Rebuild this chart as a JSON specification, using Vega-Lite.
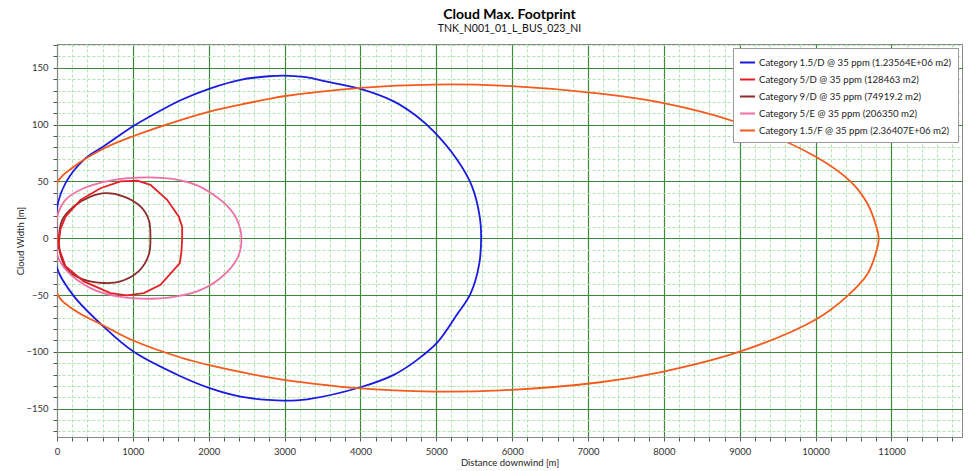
{
  "$schema": "https://vega.github.io/schema/vega-lite/v6.json",
  "autosize": {"type": "none"},
  "padding": {"left": 57, "top": 44, "right": 10, "bottom": 34},
  "width": 905,
  "height": 393,
  "background": "white",
  "title": {
    "text": "Cloud Max. Footprint",
    "subtitle": "TNK_N001_01_L_BUS_023_NI",
    "anchor": "middle",
    "font": "Lato",
    "fontSize": 14,
    "fontWeight": "bold",
    "color": "#000",
    "subtitleFont": "Lato",
    "subtitleFontSize": 10.5,
    "subtitleColor": "#111",
    "subtitlePadding": 2,
    "offset": 6
  },
  "config": {
    "view": {"stroke": "#888", "strokeWidth": 1},
    "font": "Lato"
  },
  "datasets": {
    "curves": [
      {"series": "Category 1.5/D @ 35 ppm (1.23564E+06 m2)", "i": 0, "x": 0, "y": 0},
      {"series": "Category 1.5/D @ 35 ppm (1.23564E+06 m2)", "i": 1, "x": 0, "y": 26.5},
      {"series": "Category 1.5/D @ 35 ppm (1.23564E+06 m2)", "i": 2, "x": 112, "y": 48.5},
      {"series": "Category 1.5/D @ 35 ppm (1.23564E+06 m2)", "i": 3, "x": 353, "y": 69},
      {"series": "Category 1.5/D @ 35 ppm (1.23564E+06 m2)", "i": 4, "x": 617, "y": 81},
      {"series": "Category 1.5/D @ 35 ppm (1.23564E+06 m2)", "i": 5, "x": 1012, "y": 99},
      {"series": "Category 1.5/D @ 35 ppm (1.23564E+06 m2)", "i": 6, "x": 1232, "y": 107.5},
      {"series": "Category 1.5/D @ 35 ppm (1.23564E+06 m2)", "i": 7, "x": 1628, "y": 121.5},
      {"series": "Category 1.5/D @ 35 ppm (1.23564E+06 m2)", "i": 8, "x": 2023, "y": 132},
      {"series": "Category 1.5/D @ 35 ppm (1.23564E+06 m2)", "i": 9, "x": 2419, "y": 139.5},
      {"series": "Category 1.5/D @ 35 ppm (1.23564E+06 m2)", "i": 10, "x": 2792, "y": 142.6},
      {"series": "Category 1.5/D @ 35 ppm (1.23564E+06 m2)", "i": 11, "x": 2990, "y": 143.2},
      {"series": "Category 1.5/D @ 35 ppm (1.23564E+06 m2)", "i": 12, "x": 3253, "y": 142},
      {"series": "Category 1.5/D @ 35 ppm (1.23564E+06 m2)", "i": 13, "x": 3620, "y": 137},
      {"series": "Category 1.5/D @ 35 ppm (1.23564E+06 m2)", "i": 14, "x": 4000, "y": 131.5},
      {"series": "Category 1.5/D @ 35 ppm (1.23564E+06 m2)", "i": 15, "x": 4439, "y": 120.5},
      {"series": "Category 1.5/D @ 35 ppm (1.23564E+06 m2)", "i": 16, "x": 4730, "y": 108},
      {"series": "Category 1.5/D @ 35 ppm (1.23564E+06 m2)", "i": 17, "x": 4966, "y": 94},
      {"series": "Category 1.5/D @ 35 ppm (1.23564E+06 m2)", "i": 18, "x": 5275, "y": 69},
      {"series": "Category 1.5/D @ 35 ppm (1.23564E+06 m2)", "i": 19, "x": 5472, "y": 45.5},
      {"series": "Category 1.5/D @ 35 ppm (1.23564E+06 m2)", "i": 20, "x": 5575, "y": 18},
      {"series": "Category 1.5/D @ 35 ppm (1.23564E+06 m2)", "i": 21, "x": 5591, "y": 0},
      {"series": "Category 1.5/D @ 35 ppm (1.23564E+06 m2)", "i": 22, "x": 5565, "y": -23},
      {"series": "Category 1.5/D @ 35 ppm (1.23564E+06 m2)", "i": 23, "x": 5450, "y": -49},
      {"series": "Category 1.5/D @ 35 ppm (1.23564E+06 m2)", "i": 24, "x": 5275, "y": -67},
      {"series": "Category 1.5/D @ 35 ppm (1.23564E+06 m2)", "i": 25, "x": 5011, "y": -92},
      {"series": "Category 1.5/D @ 35 ppm (1.23564E+06 m2)", "i": 26, "x": 4730, "y": -108},
      {"series": "Category 1.5/D @ 35 ppm (1.23564E+06 m2)", "i": 27, "x": 4439, "y": -120.3},
      {"series": "Category 1.5/D @ 35 ppm (1.23564E+06 m2)", "i": 28, "x": 4000, "y": -131.2},
      {"series": "Category 1.5/D @ 35 ppm (1.23564E+06 m2)", "i": 29, "x": 3298, "y": -141.8},
      {"series": "Category 1.5/D @ 35 ppm (1.23564E+06 m2)", "i": 30, "x": 2990, "y": -143},
      {"series": "Category 1.5/D @ 35 ppm (1.23564E+06 m2)", "i": 31, "x": 2792, "y": -142.4},
      {"series": "Category 1.5/D @ 35 ppm (1.23564E+06 m2)", "i": 32, "x": 2419, "y": -139.5},
      {"series": "Category 1.5/D @ 35 ppm (1.23564E+06 m2)", "i": 33, "x": 2023, "y": -132.2},
      {"series": "Category 1.5/D @ 35 ppm (1.23564E+06 m2)", "i": 34, "x": 1628, "y": -121.5},
      {"series": "Category 1.5/D @ 35 ppm (1.23564E+06 m2)", "i": 35, "x": 1012, "y": -100},
      {"series": "Category 1.5/D @ 35 ppm (1.23564E+06 m2)", "i": 36, "x": 617, "y": -78},
      {"series": "Category 1.5/D @ 35 ppm (1.23564E+06 m2)", "i": 37, "x": 222, "y": -51},
      {"series": "Category 1.5/D @ 35 ppm (1.23564E+06 m2)", "i": 38, "x": 0, "y": -26},
      {"series": "Category 1.5/D @ 35 ppm (1.23564E+06 m2)", "i": 39, "x": 0, "y": 0},

      {"series": "Category 5/D @ 35 ppm (128463 m2)", "i": 0, "x": 30, "y": 0},
      {"series": "Category 5/D @ 35 ppm (128463 m2)", "i": 1, "x": 46, "y": 8},
      {"series": "Category 5/D @ 35 ppm (128463 m2)", "i": 2, "x": 112, "y": 19},
      {"series": "Category 5/D @ 35 ppm (128463 m2)", "i": 3, "x": 310, "y": 33.8},
      {"series": "Category 5/D @ 35 ppm (128463 m2)", "i": 4, "x": 573, "y": 44},
      {"series": "Category 5/D @ 35 ppm (128463 m2)", "i": 5, "x": 837, "y": 50},
      {"series": "Category 5/D @ 35 ppm (128463 m2)", "i": 6, "x": 1057, "y": 50.6},
      {"series": "Category 5/D @ 35 ppm (128463 m2)", "i": 7, "x": 1232, "y": 47},
      {"series": "Category 5/D @ 35 ppm (128463 m2)", "i": 8, "x": 1452, "y": 33.8},
      {"series": "Category 5/D @ 35 ppm (128463 m2)", "i": 9, "x": 1606, "y": 19},
      {"series": "Category 5/D @ 35 ppm (128463 m2)", "i": 10, "x": 1650, "y": 10},
      {"series": "Category 5/D @ 35 ppm (128463 m2)", "i": 11, "x": 1650, "y": 0},
      {"series": "Category 5/D @ 35 ppm (128463 m2)", "i": 12, "x": 1640, "y": -12},
      {"series": "Category 5/D @ 35 ppm (128463 m2)", "i": 13, "x": 1619, "y": -21.8},
      {"series": "Category 5/D @ 35 ppm (128463 m2)", "i": 14, "x": 1364, "y": -41},
      {"series": "Category 5/D @ 35 ppm (128463 m2)", "i": 15, "x": 1144, "y": -48.3},
      {"series": "Category 5/D @ 35 ppm (128463 m2)", "i": 16, "x": 925, "y": -50.3},
      {"series": "Category 5/D @ 35 ppm (128463 m2)", "i": 17, "x": 705, "y": -48.3},
      {"series": "Category 5/D @ 35 ppm (128463 m2)", "i": 18, "x": 353, "y": -38},
      {"series": "Category 5/D @ 35 ppm (128463 m2)", "i": 19, "x": 112, "y": -24.7},
      {"series": "Category 5/D @ 35 ppm (128463 m2)", "i": 20, "x": 24, "y": -8.5},
      {"series": "Category 5/D @ 35 ppm (128463 m2)", "i": 21, "x": 30, "y": 0},

      {"series": "Category 9/D @ 35 ppm (74919.2 m2)", "i": 0, "x": 24, "y": 0},
      {"series": "Category 9/D @ 35 ppm (74919.2 m2)", "i": 1, "x": 68, "y": 16},
      {"series": "Category 9/D @ 35 ppm (74919.2 m2)", "i": 2, "x": 222, "y": 28},
      {"series": "Category 9/D @ 35 ppm (74919.2 m2)", "i": 3, "x": 441, "y": 36.7},
      {"series": "Category 9/D @ 35 ppm (74919.2 m2)", "i": 4, "x": 639, "y": 39.7},
      {"series": "Category 9/D @ 35 ppm (74919.2 m2)", "i": 5, "x": 881, "y": 36.7},
      {"series": "Category 9/D @ 35 ppm (74919.2 m2)", "i": 6, "x": 1100, "y": 28},
      {"series": "Category 9/D @ 35 ppm (74919.2 m2)", "i": 7, "x": 1210, "y": 16},
      {"series": "Category 9/D @ 35 ppm (74919.2 m2)", "i": 8, "x": 1232, "y": 0},
      {"series": "Category 9/D @ 35 ppm (74919.2 m2)", "i": 9, "x": 1210, "y": -14.5},
      {"series": "Category 9/D @ 35 ppm (74919.2 m2)", "i": 10, "x": 1078, "y": -29},
      {"series": "Category 9/D @ 35 ppm (74919.2 m2)", "i": 11, "x": 837, "y": -38},
      {"series": "Category 9/D @ 35 ppm (74919.2 m2)", "i": 12, "x": 617, "y": -39.4},
      {"series": "Category 9/D @ 35 ppm (74919.2 m2)", "i": 13, "x": 353, "y": -36.5},
      {"series": "Category 9/D @ 35 ppm (74919.2 m2)", "i": 14, "x": 134, "y": -27.7},
      {"series": "Category 9/D @ 35 ppm (74919.2 m2)", "i": 15, "x": 46, "y": -14.5},
      {"series": "Category 9/D @ 35 ppm (74919.2 m2)", "i": 16, "x": 24, "y": 0},

      {"series": "Category 5/E @ 35 ppm (206350 m2)", "i": 0, "x": 0, "y": 0},
      {"series": "Category 5/E @ 35 ppm (206350 m2)", "i": 1, "x": 3, "y": 19},
      {"series": "Category 5/E @ 35 ppm (206350 m2)", "i": 2, "x": 112, "y": 33.8},
      {"series": "Category 5/E @ 35 ppm (206350 m2)", "i": 3, "x": 353, "y": 44},
      {"series": "Category 5/E @ 35 ppm (206350 m2)", "i": 4, "x": 705, "y": 50.8},
      {"series": "Category 5/E @ 35 ppm (206350 m2)", "i": 5, "x": 1189, "y": 53.5},
      {"series": "Category 5/E @ 35 ppm (206350 m2)", "i": 6, "x": 1628, "y": 51},
      {"series": "Category 5/E @ 35 ppm (206350 m2)", "i": 7, "x": 1850, "y": 46.5},
      {"series": "Category 5/E @ 35 ppm (206350 m2)", "i": 8, "x": 2023, "y": 40},
      {"series": "Category 5/E @ 35 ppm (206350 m2)", "i": 9, "x": 2243, "y": 28.5},
      {"series": "Category 5/E @ 35 ppm (206350 m2)", "i": 10, "x": 2375, "y": 16},
      {"series": "Category 5/E @ 35 ppm (206350 m2)", "i": 11, "x": 2432, "y": 0},
      {"series": "Category 5/E @ 35 ppm (206350 m2)", "i": 12, "x": 2375, "y": -18},
      {"series": "Category 5/E @ 35 ppm (206350 m2)", "i": 13, "x": 2155, "y": -35},
      {"series": "Category 5/E @ 35 ppm (206350 m2)", "i": 14, "x": 1848, "y": -46.8},
      {"series": "Category 5/E @ 35 ppm (206350 m2)", "i": 15, "x": 1500, "y": -52},
      {"series": "Category 5/E @ 35 ppm (206350 m2)", "i": 16, "x": 1232, "y": -53.3},
      {"series": "Category 5/E @ 35 ppm (206350 m2)", "i": 17, "x": 793, "y": -51.2},
      {"series": "Category 5/E @ 35 ppm (206350 m2)", "i": 18, "x": 441, "y": -43.9},
      {"series": "Category 5/E @ 35 ppm (206350 m2)", "i": 19, "x": 134, "y": -29},
      {"series": "Category 5/E @ 35 ppm (206350 m2)", "i": 20, "x": 3, "y": -14.5},
      {"series": "Category 5/E @ 35 ppm (206350 m2)", "i": 21, "x": 0, "y": 0},

      {"series": "Category 1.5/F @ 35 ppm (2.36407E+06 m2)", "i": 0, "x": 0, "y": 0},
      {"series": "Category 1.5/F @ 35 ppm (2.36407E+06 m2)", "i": 1, "x": 0, "y": 48.5},
      {"series": "Category 1.5/F @ 35 ppm (2.36407E+06 m2)", "i": 2, "x": 222, "y": 63},
      {"series": "Category 1.5/F @ 35 ppm (2.36407E+06 m2)", "i": 3, "x": 617, "y": 79},
      {"series": "Category 1.5/F @ 35 ppm (2.36407E+06 m2)", "i": 4, "x": 1012, "y": 90},
      {"series": "Category 1.5/F @ 35 ppm (2.36407E+06 m2)", "i": 5, "x": 1628, "y": 104},
      {"series": "Category 1.5/F @ 35 ppm (2.36407E+06 m2)", "i": 6, "x": 2023, "y": 111.7},
      {"series": "Category 1.5/F @ 35 ppm (2.36407E+06 m2)", "i": 7, "x": 2419, "y": 117.6},
      {"series": "Category 1.5/F @ 35 ppm (2.36407E+06 m2)", "i": 8, "x": 2792, "y": 122.6},
      {"series": "Category 1.5/F @ 35 ppm (2.36407E+06 m2)", "i": 9, "x": 2990, "y": 125},
      {"series": "Category 1.5/F @ 35 ppm (2.36407E+06 m2)", "i": 10, "x": 4000, "y": 132.4},
      {"series": "Category 1.5/F @ 35 ppm (2.36407E+06 m2)", "i": 11, "x": 4966, "y": 135.3},
      {"series": "Category 1.5/F @ 35 ppm (2.36407E+06 m2)", "i": 12, "x": 5845, "y": 134.4},
      {"series": "Category 1.5/F @ 35 ppm (2.36407E+06 m2)", "i": 13, "x": 7163, "y": 127.3},
      {"series": "Category 1.5/F @ 35 ppm (2.36407E+06 m2)", "i": 14, "x": 7998, "y": 119},
      {"series": "Category 1.5/F @ 35 ppm (2.36407E+06 m2)", "i": 15, "x": 8920, "y": 103},
      {"series": "Category 1.5/F @ 35 ppm (2.36407E+06 m2)", "i": 16, "x": 9997, "y": 72},
      {"series": "Category 1.5/F @ 35 ppm (2.36407E+06 m2)", "i": 17, "x": 10459, "y": 50},
      {"series": "Category 1.5/F @ 35 ppm (2.36407E+06 m2)", "i": 18, "x": 10679, "y": 31},
      {"series": "Category 1.5/F @ 35 ppm (2.36407E+06 m2)", "i": 19, "x": 10788, "y": 13},
      {"series": "Category 1.5/F @ 35 ppm (2.36407E+06 m2)", "i": 20, "x": 10832, "y": 0},
      {"series": "Category 1.5/F @ 35 ppm (2.36407E+06 m2)", "i": 21, "x": 10801, "y": -11.5},
      {"series": "Category 1.5/F @ 35 ppm (2.36407E+06 m2)", "i": 22, "x": 10679, "y": -32},
      {"series": "Category 1.5/F @ 35 ppm (2.36407E+06 m2)", "i": 23, "x": 10436, "y": -49.8},
      {"series": "Category 1.5/F @ 35 ppm (2.36407E+06 m2)", "i": 24, "x": 9997, "y": -71.8},
      {"series": "Category 1.5/F @ 35 ppm (2.36407E+06 m2)", "i": 25, "x": 9009, "y": -99.7},
      {"series": "Category 1.5/F @ 35 ppm (2.36407E+06 m2)", "i": 26, "x": 7998, "y": -117.4},
      {"series": "Category 1.5/F @ 35 ppm (2.36407E+06 m2)", "i": 27, "x": 7163, "y": -126.8},
      {"series": "Category 1.5/F @ 35 ppm (2.36407E+06 m2)", "i": 28, "x": 5845, "y": -134},
      {"series": "Category 1.5/F @ 35 ppm (2.36407E+06 m2)", "i": 29, "x": 4966, "y": -135},
      {"series": "Category 1.5/F @ 35 ppm (2.36407E+06 m2)", "i": 30, "x": 3957, "y": -132},
      {"series": "Category 1.5/F @ 35 ppm (2.36407E+06 m2)", "i": 31, "x": 2990, "y": -124.7},
      {"series": "Category 1.5/F @ 35 ppm (2.36407E+06 m2)", "i": 32, "x": 2792, "y": -122.6},
      {"series": "Category 1.5/F @ 35 ppm (2.36407E+06 m2)", "i": 33, "x": 2023, "y": -112},
      {"series": "Category 1.5/F @ 35 ppm (2.36407E+06 m2)", "i": 34, "x": 1628, "y": -105},
      {"series": "Category 1.5/F @ 35 ppm (2.36407E+06 m2)", "i": 35, "x": 1012, "y": -90.3},
      {"series": "Category 1.5/F @ 35 ppm (2.36407E+06 m2)", "i": 36, "x": 617, "y": -77},
      {"series": "Category 1.5/F @ 35 ppm (2.36407E+06 m2)", "i": 37, "x": 222, "y": -63},
      {"series": "Category 1.5/F @ 35 ppm (2.36407E+06 m2)", "i": 38, "x": 0, "y": -48.3},
      {"series": "Category 1.5/F @ 35 ppm (2.36407E+06 m2)", "i": 39, "x": 0, "y": 0}
    ]
  },
  "data": {"name": "curves"},
  "encoding": {
    "x": {
      "field": "x",
      "type": "quantitative",
      "scale": {"domain": [0, 11930], "nice": false, "zero": false},
      "axis": {
        "title": "Distance downwind [m]",
        "values": [0,200,400,600,800,1000,1200,1400,1600,1800,2000,2200,2400,2600,2800,3000,3200,3400,3600,3800,4000,4200,4400,4600,4800,5000,5200,5400,5600,5800,6000,6200,6400,6600,6800,7000,7200,7400,7600,7800,8000,8200,8400,8600,8800,9000,9200,9400,9600,9800,10000,10200,10400,10600,10800,11000,11200,11400,11600,11800],
        "format": "d",
        "labelExpr": "datum.value % 1000 === 0 ? datum.label : ''",
        "labelOverlap": false,
        "labelFlush": false,
        "labelFont": "Lato",
        "labelFontSize": 9.5,
        "labelColor": "#333",
        "labelPadding": 5,
        "tickSize": 4,
        "tickColor": "#555",
        "domainColor": "#888",
        "grid": true,
        "gridColor": {"condition": {"test": "datum.value % 1000 === 0", "value": "#3a8a3a"}, "value": "#b0e4b0"},
        "gridDash": {"condition": {"test": "datum.value % 1000 === 0", "value": []}, "value": [3, 2]},
        "gridWidth": {"condition": {"test": "datum.value % 1000 === 0", "value": 1.2}, "value": 1},
        "gridOpacity": 1,
        "titleFont": "Lato",
        "titleFontSize": 9.5,
        "titleFontWeight": "normal",
        "titleColor": "#222",
        "titlePadding": 2
      }
    },
    "y": {
      "field": "y",
      "type": "quantitative",
      "scale": {"domain": [-175, 171], "nice": false, "zero": false},
      "axis": {
        "title": "Cloud Width [m]",
        "values": [-170,-160,-150,-140,-130,-120,-110,-100,-90,-80,-70,-60,-50,-40,-30,-20,-10,0,10,20,30,40,50,60,70,80,90,100,110,120,130,140,150,160,170],
        "format": "d",
        "labelExpr": "datum.value % 50 === 0 ? datum.label : ''",
        "labelOverlap": false,
        "labelFlush": false,
        "labelFont": "Lato",
        "labelFontSize": 9.5,
        "labelColor": "#333",
        "labelPadding": 5,
        "tickSize": 4,
        "tickColor": "#555",
        "domainColor": "#888",
        "grid": true,
        "gridColor": {"condition": {"test": "datum.value % 50 === 0", "value": "#3a8a3a"}, "value": "#b0e4b0"},
        "gridDash": {"condition": {"test": "datum.value % 50 === 0", "value": []}, "value": [3, 2]},
        "gridWidth": {"condition": {"test": "datum.value % 50 === 0", "value": 1.2}, "value": 1},
        "gridOpacity": 1,
        "titleFont": "Lato",
        "titleFontSize": 9.5,
        "titleFontWeight": "normal",
        "titleColor": "#222",
        "titlePadding": 0
      }
    },
    "order": {"field": "i", "type": "quantitative"},
    "color": {
      "field": "series",
      "type": "nominal",
      "scale": {
        "domain": [
          "Category 1.5/D @ 35 ppm (1.23564E+06 m2)",
          "Category 5/D @ 35 ppm (128463 m2)",
          "Category 9/D @ 35 ppm (74919.2 m2)",
          "Category 5/E @ 35 ppm (206350 m2)",
          "Category 1.5/F @ 35 ppm (2.36407E+06 m2)"
        ],
        "range": ["#1a1ae0", "#e41e26", "#8c2b2b", "#ef6fa6", "#f55a1c"]
      },
      "legend": {
        "title": null,
        "orient": "top-right",
        "offset": 4,
        "labelFont": "Lato",
        "labelFontSize": 9.6,
        "labelColor": "#222",
        "labelLimit": 400,
        "labelOffset": 3,
        "symbolType": "stroke",
        "symbolSize": 225,
        "symbolStrokeWidth": 2,
        "rowPadding": 3,
        "padding": 6,
        "strokeColor": "#999",
        "fillColor": "white",
        "cornerRadius": 0
      }
    }
  },
  "layer": [
    {
      "transform": [{"filter": "datum.series !== 'Category 5/D @ 35 ppm (128463 m2)'"}],
      "mark": {"type": "line", "interpolate": "catmull-rom", "strokeWidth": 1.8, "clip": true}
    },
    {
      "transform": [{"filter": "datum.series === 'Category 5/D @ 35 ppm (128463 m2)'"}],
      "mark": {"type": "line", "interpolate": "linear", "strokeWidth": 1.8, "clip": true}
    }
  ]
}
